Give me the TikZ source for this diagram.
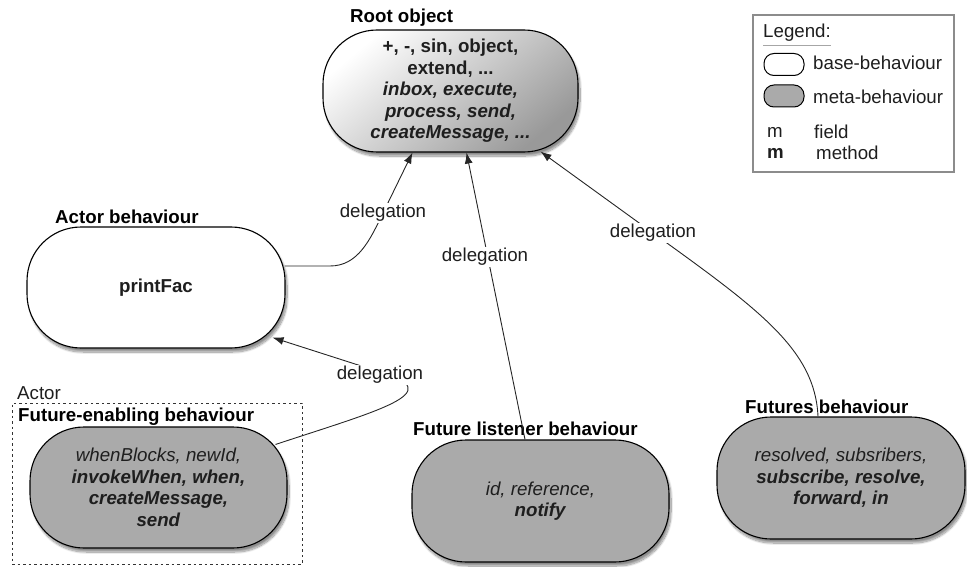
\documentclass[tikz,border=0pt]{standalone}
\usepackage{fontspec}
\setmainfont{Liberation Sans}
\usetikzlibrary{calc,arrows.meta,shadows.blur}
\definecolor{metagray}{RGB}{170,170,170}
\definecolor{inkgray}{RGB}{30,30,30}
\tikzset{
  behav/.style={draw=black, line width=1.1pt, rounded corners=54pt, inner sep=0pt,
    align=center, text=inkgray, font=\fontsize{18.7}{21.5}\selectfont,
    blur shadow={shadow xshift=2pt, shadow yshift=-4pt, shadow blur steps=12, shadow opacity=45}},
  basebox/.style={behav, fill=white},
  metabox/.style={behav, fill=metagray},
  rootbox/.style={behav, top color=white, bottom color=black!40, shading angle=40},
  title/.style={anchor=west, inner sep=0pt, font=\fontsize{18.7}{21}\selectfont\bfseries, text=black},
  plain/.style={anchor=west, inner sep=0pt, font=\fontsize{18.7}{21}\selectfont, text=inkgray},
  dlglabel/.style={fill=white, inner sep=1.5pt, font=\fontsize{18.7}{21}\selectfont, text=inkgray},
  dlg/.style={draw=black!85, line width=0.9pt, -{Latex[length=11pt,width=8pt]}},
  swatch/.style={draw=black, line width=1pt, rounded corners=10pt, minimum width=40pt, minimum height=22pt, inner sep=0pt}
}
\begin{document}
\begin{tikzpicture}[x=1pt, y=-1pt]
\useasboundingbox (0,0) rectangle (967,567);

% Root object
\node[rootbox, minimum width=255pt, minimum height=122pt] (root) at (450.5,91)
  {\textbf{+, -, sin, object,}\\ \textbf{extend, ...}\\ \textbf{\textit{inbox, execute,}}\\
   \textbf{\textit{process, send,}}\\ \textbf{\textit{createMessage, ...}}};
\node[title] (roott) at (350,18) {Root object};

% Actor behaviour
\node[basebox, minimum width=258pt, minimum height=121pt] (actor) at (156,287.5) {\textbf{printFac}};
\node[title] (actort) at (55,217) {Actor behaviour};

% Actor container with the future-enabling behaviour
\node[draw=black!80, dashed, dash pattern=on 2.5pt off 3pt, line width=0.9pt,
      minimum width=290pt, minimum height=161pt, inner sep=0pt] (actorbox) at (157,483.5) {};
\node[plain] (actorlbl) at (17,393) {Actor};
\node[title] (fet) at (18,417) {Future-enabling behaviour};
\node[metabox, minimum width=257pt, minimum height=121pt] (fe) at (158.5,487.5)
  {\textit{whenBlocks, newId,}\\ \textbf{\textit{invokeWhen, when,}}\\
   \textbf{\textit{createMessage,}}\\ \textbf{\textit{send}}};

% Future listener behaviour
\node[metabox, minimum width=257pt, minimum height=122pt] (listener) at (540.5,501)
  {\textit{id, reference,}\\ \textbf{\textit{notify}}};
\node[title] (listenert) at (413,429) {Future listener behaviour};

% Futures behaviour
\node[metabox, minimum width=248pt, minimum height=122pt] (futures) at (841,478)
  {\textit{resolved, subsribers,}\\ \textbf{\textit{subscribe, resolve,}}\\ \textbf{\textit{forward, in}}};
\node[title] (futurest) at (745,407) {Futures behaviour};

% Delegation connectors
\coordinate (c1) at ($(actor.east)+(-1,-21.5)$);
\draw[dlg] (c1) -- (330,266) .. controls (358,266) and (370,240) .. (383,213) -- ($(root.south)+(-38,0)$);
\node[dlglabel] (d1) at (383,213) {delegation};

\draw[dlg] ($(listener.north)+(-15.5,0)$) -- ($(root.south)+(16,0)$);
\node[dlglabel] (d2) at (485,257) {delegation};

\draw[dlg] ($(futures.north)+(-23,0)$) .. controls (815,350) and (760,310) .. (653,233) -- ($(root.south)+(90,-1)$);
\node[dlglabel] (d3) at (653,233) {delegation};

\draw[dlg] ($(fe.north east)+(-12,18)$) .. controls (380,410) and (450,392) .. (380,372) -- ($(actor.south east)+(-13,-11)$);
\node[dlglabel] (d4) at (380,375) {delegation};

% Legend
\node[draw=black!45, line width=2pt, minimum width=201pt, minimum height=157pt, inner sep=0pt] (legend) at (853.5,93.5) {};
\node[plain] (legt) at (763,33) {Legend:};
\draw[black!35, line width=0.8pt] ($(legt.south west)+(0,3)$) -- ($(legt.south east)+(0,3)$);
\node[swatch, fill=white] (sw1) at (784,64.5) {};
\node[plain] (sw1t) at (813,63) {base-behaviour};
\node[swatch, fill=metagray] (sw2) at (784,96) {};
\node[plain] (sw2t) at (813,97) {meta-behaviour};
\node[plain] (fm) at (767,132) {m};
\node[plain] (fmt) at (814,132) {field};
\node[plain, font=\fontsize{18.7}{21}\selectfont\bfseries] (mm) at (767,153) {m};
\node[plain] (mmt) at (816,153) {method};
\end{tikzpicture}
\end{document}
